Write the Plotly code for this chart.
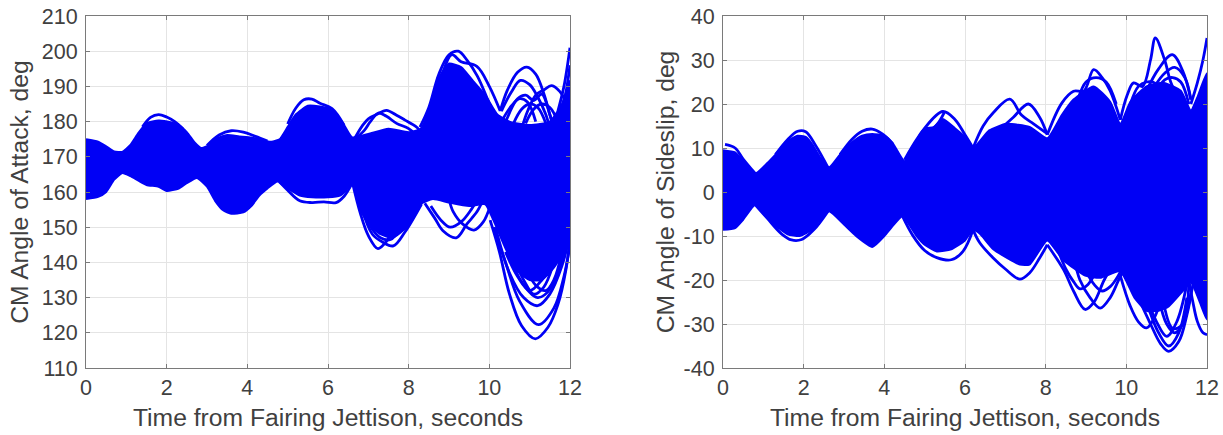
import plotly.graph_objects as go

BLUE = "#0000f5"
TEXT = "#404040"
X_TICKS = [0, 2, 4, 6, 8, 10, 12]
AOA_TICKS = [110, 120, 130, 140, 150, 160, 170, 180, 190, 200, 210]
BETA_TICKS = [-40, -30, -20, -10, 0, 10, 20, 30, 40]
BETA_LABELS = ["-40", "-30", "-20", "-10", "0", "10", "20", "30", "40"]
X_TITLE = "Time from Fairing Jettison, seconds"
AOA_TITLE = "CM Angle of Attack, deg"
BETA_TITLE = "CM Angle of Sideslip, deg"

# ---- Angle of attack: dense band of runs (upper / lower edge)
aoa_up_t = [0, 0.3, 0.5, 0.7, 0.9, 1.1, 1.3, 1.5, 1.8, 2.1, 2.3, 2.5, 2.7, 2.85, 3.0, 3.2, 3.5, 3.8, 4.1, 4.4, 4.6, 4.8, 5.0, 5.2, 5.5, 5.8, 6.0, 6.2, 6.4, 6.6, 7.0, 7.5, 8.0, 8.3, 8.5, 8.75, 9.0, 9.3, 9.6, 9.9, 10.2, 10.5, 11.0, 11.5, 11.8, 12]
aoa_up_v = [175, 174.3, 173, 171.5, 171.4, 173.4, 176.8, 179.5, 180.3, 179.8, 179, 177, 174, 172.5, 173, 175, 176.2, 175.8, 175.5, 174.6, 174.3, 175, 178.5, 182, 184.5, 184.3, 183.8, 182, 179, 175.5, 176.5, 178, 177, 178, 183, 192.5, 196.5, 195.5, 191.5, 187.5, 182, 180, 179, 180, 185, 191.7]
aoa_lo_t = [0, 0.3, 0.5, 0.7, 0.9, 1.1, 1.3, 1.5, 1.8, 2.0, 2.3, 2.5, 2.75, 3.0, 3.2, 3.4, 3.6, 3.9, 4.1, 4.3, 4.5, 4.75, 5.0, 5.3, 5.6, 6.0, 6.3, 6.45, 6.6, 6.8, 7.0, 7.3, 7.6, 8.0, 8.3, 8.6, 9.0, 9.5, 9.9, 10.1, 10.4, 10.7, 11.0, 11.3, 11.6, 11.85, 12]
aoa_lo_v = [158, 158.6, 160, 163.5, 165.4, 164.5, 163.2, 162, 161.5, 160.3, 161, 162.5, 164, 161.5, 157.5, 154.8, 153.8, 154.2, 156, 159, 161, 163, 161, 159, 158.5, 158.5, 159, 160.5, 163, 155, 151, 148, 147, 150.5, 156.6, 158, 157, 156, 156.5, 152, 144, 137.5, 135, 135, 138.5, 143, 146]

# ---- Angle of attack: individual runs that stand clear of the band
aoa_run1_t = [1.4, 1.6, 1.8, 2.0, 2.2, 2.4]
aoa_run1_v = [178.5, 181.2, 182, 181.3, 180, 178]
aoa_run2_t = [3.0, 3.3, 3.6, 3.9, 4.2, 4.5]
aoa_run2_v = [173.2, 176.2, 177.4, 177, 175.8, 174.5]
aoa_run3_t = [5.0, 5.2, 5.4, 5.6, 5.8, 6.1, 6.4]
aoa_run3_v = [179.3, 183.8, 186.2, 186.4, 185.2, 183.7, 179]
aoa_run4_t = [4.8, 5.0, 5.3, 5.6, 5.9, 6.2, 6.4, 6.6]
aoa_run4_v = [162.8, 160.5, 157.5, 157, 157.2, 157, 158.8, 162.5]
aoa_run5_t = [6.66, 6.85, 7.0, 7.2, 7.45, 7.7, 7.9, 8.2, 8.35]
aoa_run5_v = [175.2, 178.8, 180.8, 182, 183.2, 181.8, 180.5, 178.4, 176.5]
aoa_run6_t = [6.66, 6.9, 7.05, 7.25, 7.45, 7.7, 8.0, 8.2]
aoa_run6_v = [175, 177.5, 180, 182.4, 181.5, 179.5, 178, 176]
aoa_run7_t = [6.6, 6.8, 7.0, 7.24, 7.45, 7.7]
aoa_run7_v = [163, 154, 147.6, 143.9, 146, 151]
aoa_run8_t = [6.85, 7.1, 7.35, 7.62, 7.9, 8.32]
aoa_run8_v = [155, 148, 145.8, 144.7, 148.5, 156.6]
aoa_run9_t = [8.28, 8.5, 8.75, 9.0, 9.23, 9.45, 9.7, 9.95, 10.1]
aoa_run9_v = [178.4, 184, 193.5, 199, 200, 197.4, 193, 186.5, 182]
aoa_run10_t = [8.5, 8.8, 9.07, 9.3, 9.69, 10.0, 10.27]
aoa_run10_v = [183, 192.5, 199, 197, 195.7, 190, 183]
aoa_run11_t = [8.4, 8.65, 8.85, 9.18, 9.45, 9.7, 9.85]
aoa_run11_v = [156.8, 152.5, 149, 147, 151, 154.5, 158]
aoa_run12_t = [8.55, 8.8, 9.03, 9.3, 9.55, 9.7]
aoa_run12_v = [156, 152, 150, 151.5, 155, 158]
aoa_run13_t = [9.0, 9.1, 9.35, 9.62, 9.85, 10.02]
aoa_run13_v = [158, 154.5, 150.8, 149.2, 151.5, 156]
aoa_run14_t = [10.02, 10.25, 10.5, 10.8, 11.14, 11.45, 11.7, 11.9, 12]
aoa_run14_v = [152, 143, 131, 122, 118.3, 121.5, 128, 138, 147]
aoa_run15_t = [10.1, 10.4, 10.75, 11.22, 11.6, 11.85, 12]
aoa_run15_v = [150, 140, 129, 122.3, 127, 136, 145]
aoa_run16_t = [10.15, 10.5, 10.85, 11.2, 11.5, 11.8, 12]
aoa_run16_v = [150, 137, 130, 127.7, 131, 139, 148]
aoa_run17_t = [10.5, 10.8, 11.2, 11.55, 11.8, 11.95]
aoa_run17_v = [142, 134.5, 130, 133, 141, 147]
aoa_run18_t = [10.27, 10.45, 10.7, 10.93, 11.15, 11.35, 11.5, 11.6]
aoa_run18_v = [183, 189, 194, 195.5, 193.5, 188, 182, 178]
aoa_run19_t = [10.3, 10.55, 10.77, 11.0, 11.2, 11.4, 11.5]
aoa_run19_v = [183, 188.5, 191.7, 190.5, 187, 182, 178]
aoa_run20_t = [10.8, 10.95, 11.15, 11.35, 11.55, 11.75, 11.88]
aoa_run20_v = [178, 183, 187.5, 189, 190.2, 188.5, 186]
aoa_run21_t = [10.35, 10.5, 10.7, 10.9, 11.1, 11.3, 11.5, 11.6]
aoa_run21_v = [178, 182.5, 186.5, 187.5, 186, 187.8, 182, 178]
aoa_run22_t = [11.7, 11.85, 12]
aoa_run22_v = [183, 190, 201]
aoa_run23_t = [11.75, 11.88, 12]
aoa_run23_v = [181, 187, 196]
aoa_run24_t = [10.3, 10.55, 10.75, 10.95, 11.15]
aoa_run24_v = [180, 184.5, 186.5, 185.5, 180]
aoa_run25_t = [10.6, 10.8, 11.0, 11.2, 11.4]
aoa_run25_v = [179.5, 183.5, 185, 184, 179.5]
aoa_run26_t = [10.9, 11.1, 11.3, 11.5, 11.7]
aoa_run26_v = [179.5, 183.5, 185, 184, 180]
aoa_run27_t = [10.4, 10.7, 11.0, 11.3, 11.6, 11.75]
aoa_run27_v = [143, 136, 132, 135, 141, 147]
aoa_run28_t = [10.6, 10.9, 11.1, 11.35, 11.6, 11.75]
aoa_run28_v = [141, 134, 131, 133, 140, 147]
aoa_run29_t = [10.9, 11.15, 11.4, 11.6, 11.8]
aoa_run29_v = [139, 133.5, 132, 135, 143]
aoa_run30_t = [7.0, 7.3, 7.55, 7.8]
aoa_run30_v = [151, 147, 146.5, 150]

# ---- Angle of sideslip: dense band
beta_up_t = [0, 0.3, 0.5, 0.8, 1.1, 1.3, 1.6, 1.85, 2.05, 2.2, 2.4, 2.63, 2.9, 3.2, 3.45, 3.7, 4.0, 4.2, 4.5, 4.8, 5.0, 5.2, 5.45, 5.75, 6.0, 6.2, 6.6, 7.03, 7.6, 8.04, 8.4, 8.69, 9.19, 9.6, 9.85, 10.1, 10.5, 10.93, 11.35, 11.6, 11.76, 12]
beta_up_v = [9.5, 9, 7, 4.2, 6.6, 8.5, 11.5, 12.8, 12.5, 11, 8, 5.6, 8.5, 11.3, 12.8, 13.2, 12.8, 11.2, 7, 11.5, 14, 14.5, 16.6, 14.5, 12.5, 10, 14, 15.5, 14.8, 12.2, 17.5, 21, 24, 20.5, 15.5, 20.5, 24, 24.8, 23, 18.5, 21.5, 27]
beta_lo_t = [0, 0.3, 0.5, 0.8, 1.1, 1.3, 1.6, 1.9, 2.2, 2.4, 2.63, 3.0, 3.3, 3.7, 4.0, 4.2, 4.45, 4.8, 5.0, 5.3, 5.66, 6.0, 6.2, 6.37, 6.7, 7.36, 7.6, 8.04, 8.44, 8.98, 9.35, 9.85, 10.2, 10.5, 10.8, 11.05, 11.4, 11.6, 11.8, 12]
beta_lo_v = [-8.6, -8.2, -6.3, -2.9, -6, -7.6, -9.6, -10, -8.6, -6.3, -4.4, -7.4, -10, -12.5, -10, -7.8, -5.5, -10, -12, -13.5, -13, -11, -8.6, -9.5, -13, -16.5, -16.5, -11, -15.5, -19, -19.5, -18, -24, -27, -27, -26, -22.5, -20.5, -24.5, -29]

# ---- Angle of sideslip: individual runs
beta_run1_t = [0.05, 0.3, 0.5, 0.8]
beta_run1_v = [10.8, 10, 7.5, 4.2]
beta_run2_t = [1.3, 1.6, 1.85, 2.05, 2.3, 2.6]
beta_run2_v = [8.5, 11.9, 13.8, 13.7, 10.5, 5.6]
beta_run3_t = [2.9, 3.2, 3.45, 3.7, 3.95, 4.2]
beta_run3_v = [8.5, 12, 13.8, 14.3, 13.2, 11]
beta_run4_t = [0.8, 1.1, 1.45, 1.7, 1.95, 2.25, 2.6]
beta_run4_v = [-2.9, -6, -9.5, -10.9, -10.8, -8.6, -4.4]
beta_run5_t = [4.5, 4.8, 5.0, 5.25, 5.5]
beta_run5_v = [7.3, 11.9, 14.3, 14.8, 18.3]
beta_run6_t = [4.75, 5.0, 5.45, 5.75, 6.0, 6.2]
beta_run6_v = [10.5, 14.5, 18.3, 16.5, 13, 10]
beta_run7_t = [4.45, 4.7, 5.0, 5.3, 5.66, 5.95, 6.2]
beta_run7_v = [-5.5, -9.8, -13.3, -14.9, -15.4, -13.5, -8.6]
beta_run8_t = [6.2, 6.45, 6.7, 7.11, 7.4, 7.7, 8.02]
beta_run8_v = [10, 15, 18, 21.1, 17.5, 15.5, 13.4]
beta_run9_t = [6.9, 7.2, 7.57, 7.85, 8.04]
beta_run9_v = [14.5, 17, 20, 17, 13]
beta_run10_t = [6.2, 6.37, 6.7, 7.0, 7.36, 7.6, 7.85, 8.04]
beta_run10_v = [-8.6, -11.6, -15, -17.5, -19.8, -18.4, -15, -12]
beta_run11_t = [8.04, 8.44, 8.69, 8.98, 9.2, 9.45, 9.7]
beta_run11_v = [-12, -17.6, -22.5, -26.7, -25, -20, -16]
beta_run12_t = [8.7, 8.85, 9.1, 9.35, 9.6, 9.85, 10.0]
beta_run12_v = [-15, -20, -24, -26.4, -24, -19.2, -17]
beta_run13_t = [8.3, 8.5, 8.7, 8.85, 9.05, 9.25]
beta_run13_v = [-13, -17.5, -20.5, -22, -21, -18]
beta_run14_t = [9.0, 9.2, 9.4, 9.6, 9.8, 9.95]
beta_run14_v = [-18, -21, -22.5, -21.5, -19, -16]
beta_run15_t = [8.04, 8.4, 8.69, 8.95, 9.19, 9.4, 9.6, 9.85]
beta_run15_v = [13, 20.2, 22.9, 23, 27.8, 26, 23, 16.4]
beta_run16_t = [8.8, 9.0, 9.25, 9.5, 9.75]
beta_run16_v = [21, 25, 26, 25, 20]
beta_run17_t = [9.85, 10.02, 10.18, 10.4, 10.6, 10.72, 10.95, 11.1, 11.3]
beta_run17_v = [16.4, 22, 24.8, 24, 30, 35, 30, 25, 21]
beta_run18_t = [10.5, 10.8, 11.14, 11.4, 11.6]
beta_run18_v = [23, 28, 31.2, 27.5, 21]
beta_run19_t = [10.7, 10.95, 11.2, 11.45, 11.6]
beta_run19_v = [24, 27, 28.3, 26, 21]
beta_run20_t = [11.6, 11.76, 11.9, 12]
beta_run20_v = [20, 24.8, 30, 35]
beta_run21_t = [9.85, 10.1, 10.3, 10.5, 10.7, 10.9]
beta_run21_v = [-19, -26, -29.5, -30.9, -28.5, -23]
beta_run22_t = [10.15, 10.3, 10.6, 10.85, 11.05, 11.3, 11.5, 11.65]
beta_run22_v = [-20, -24, -30, -34.5, -36.2, -34, -28, -21]
beta_run23_t = [10.5, 10.8, 11.05, 11.3, 11.5]
beta_run23_v = [-25, -32, -35, -32, -24]
beta_run24_t = [11.55, 11.65, 11.76, 11.9, 12]
beta_run24_v = [-20, -25, -29.4, -32, -32.4]
beta_run25_t = [10.8, 11.0, 11.2, 11.4, 11.6]
beta_run25_v = [-24, -30, -32, -30, -23]
beta_run26_t = [10.5, 10.75, 11.0, 11.25, 11.5]
beta_run26_v = [-24, -29.5, -32.8, -29.5, -21]
beta_run27_t = [10.9, 11.15, 11.4, 11.55]
beta_run27_v = [-24, -31, -30, -20]
beta_run28_t = [10.1, 10.3, 10.5, 10.7, 10.95]
beta_run28_v = [20, 24, 25, 24.8, 22]
beta_run29_t = [10.7, 10.95, 11.15, 11.35, 11.55]
beta_run29_v = [22, 25.5, 26, 25, 20]

AOA_RUNS = [(aoa_run1_t, aoa_run1_v), (aoa_run2_t, aoa_run2_v), (aoa_run3_t, aoa_run3_v), (aoa_run4_t, aoa_run4_v),
            (aoa_run5_t, aoa_run5_v), (aoa_run6_t, aoa_run6_v), (aoa_run7_t, aoa_run7_v), (aoa_run8_t, aoa_run8_v),
            (aoa_run9_t, aoa_run9_v), (aoa_run10_t, aoa_run10_v), (aoa_run11_t, aoa_run11_v), (aoa_run12_t, aoa_run12_v),
            (aoa_run13_t, aoa_run13_v), (aoa_run14_t, aoa_run14_v), (aoa_run15_t, aoa_run15_v), (aoa_run16_t, aoa_run16_v),
            (aoa_run17_t, aoa_run17_v), (aoa_run18_t, aoa_run18_v), (aoa_run19_t, aoa_run19_v), (aoa_run20_t, aoa_run20_v),
            (aoa_run21_t, aoa_run21_v), (aoa_run22_t, aoa_run22_v), (aoa_run23_t, aoa_run23_v), (aoa_run24_t, aoa_run24_v),
            (aoa_run25_t, aoa_run25_v), (aoa_run26_t, aoa_run26_v), (aoa_run27_t, aoa_run27_v), (aoa_run28_t, aoa_run28_v),
            (aoa_run29_t, aoa_run29_v), (aoa_run30_t, aoa_run30_v)]
BETA_RUNS = [(beta_run1_t, beta_run1_v), (beta_run2_t, beta_run2_v), (beta_run3_t, beta_run3_v), (beta_run4_t, beta_run4_v),
             (beta_run5_t, beta_run5_v), (beta_run6_t, beta_run6_v), (beta_run7_t, beta_run7_v), (beta_run8_t, beta_run8_v),
             (beta_run9_t, beta_run9_v), (beta_run10_t, beta_run10_v), (beta_run11_t, beta_run11_v), (beta_run12_t, beta_run12_v),
             (beta_run13_t, beta_run13_v), (beta_run14_t, beta_run14_v), (beta_run15_t, beta_run15_v), (beta_run16_t, beta_run16_v),
             (beta_run17_t, beta_run17_v), (beta_run18_t, beta_run18_v), (beta_run19_t, beta_run19_v), (beta_run20_t, beta_run20_v),
             (beta_run21_t, beta_run21_v), (beta_run22_t, beta_run22_v), (beta_run23_t, beta_run23_v), (beta_run24_t, beta_run24_v),
             (beta_run25_t, beta_run25_v), (beta_run26_t, beta_run26_v), (beta_run27_t, beta_run27_v), (beta_run28_t, beta_run28_v),
             (beta_run29_t, beta_run29_v)]

fig = go.Figure()


def add_panel(up_t, up_v, lo_t, lo_v, runs, xa, ya):
    fig.add_trace(go.Scatter(
        x=up_t + lo_t[::-1], y=up_v + lo_v[::-1], xaxis=xa, yaxis=ya,
        mode="lines", fill="toself", fillcolor=BLUE,
        line=dict(color=BLUE, width=2, shape="spline", smoothing=0.5),
        showlegend=False, hoverinfo="skip", cliponaxis=False))
    for t, v in runs:
        fig.add_trace(go.Scatter(
            x=t, y=v, xaxis=xa, yaxis=ya, mode="lines",
            line=dict(color=BLUE, width=2.8, shape="spline", smoothing=1),
            showlegend=False, hoverinfo="skip", cliponaxis=False))


add_panel(aoa_up_t, aoa_up_v, aoa_lo_t, aoa_lo_v, AOA_RUNS, "x", "y")
add_panel(beta_up_t, beta_up_v, beta_lo_t, beta_lo_v, BETA_RUNS, "x2", "y2")

W, H = 1223, 435
TOP, BOTTOM = 16, 368
common = dict(automargin=False, showgrid=True, gridcolor="#e4e4e4", gridwidth=1, zeroline=False,
              showline=True, linecolor="#7a7a7a", linewidth=1, mirror="ticks",
              ticks="inside", ticklen=4, tickcolor="#7a7a7a",
              tickfont=dict(family="Liberation Sans, Arial", size=21.5, color=TEXT))
title_font = dict(family="Liberation Sans, Arial", size=24.7, color=TEXT)


def xaxis(l, r, anchor):
    return dict(domain=[l / W, r / W], range=[0, 12], tickvals=X_TICKS, anchor=anchor,
                title=dict(text=X_TITLE, font=title_font, standoff=9), **common)


def yaxis(rng, ticks, labels, title, anchor, standoff):
    return dict(domain=[1 - BOTTOM / H, 1 - TOP / H], range=rng, tickvals=ticks, ticktext=labels,
                anchor=anchor, ticklabelstandoff=3,
                title=dict(text=title, font=title_font, standoff=standoff), **common)


fig.update_layout(
    width=W, height=H, margin=dict(l=0, r=0, t=0, b=0), paper_bgcolor="white", plot_bgcolor="white",
    xaxis=xaxis(86, 570, "y"),
    yaxis=yaxis([110, 210], AOA_TICKS, [str(v) for v in AOA_TICKS], AOA_TITLE, "x", 6),
    xaxis2=xaxis(723, 1207, "y2"),
    yaxis2=yaxis([-40, 40], BETA_TICKS, BETA_LABELS, BETA_TITLE, "x2", 1),
)
fig.write_html("out.html", config={"displayModeBar": False},
               post_script="document.body.style.margin='0';")
